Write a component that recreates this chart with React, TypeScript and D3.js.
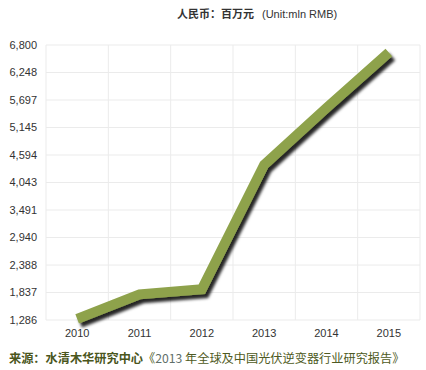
import React, { useEffect, useRef } from 'react'
import * as d3 from 'd3'

const years = ['2010', '2011', '2012', '2013', '2014', '2015']
const revenue = [1310, 1800, 1905, 4400, 5540, 6650]
const yTicks = [1286, 1837, 2388, 2940, 3491, 4043, 4594, 5145, 5697, 6248, 6800]

const width = 426
const height = 370

export default function App() {
  const svgRef = useRef<SVGSVGElement>(null)

  useEffect(() => {
    if (!svgRef.current) return
    const root = d3.select(svgRef.current)
    root.selectAll('*').remove()

    const margin = { top: 45, right: 6, bottom: 50, left: 46 }
    const innerWidth = width - margin.left - margin.right
    const innerHeight = height - margin.top - margin.bottom

    const x = d3.scaleBand<string>().domain(years).range([0, innerWidth])
    const y = d3.scaleLinear().domain([1286, 6800]).range([innerHeight, 0])

    // drop shadow for the thick line
    const defs = root.append('defs')
    const filter = defs.append('filter').attr('id', 'shadow')
      .attr('x', '-10%').attr('y', '-10%').attr('width', '130%').attr('height', '130%')
    filter.append('feDropShadow')
      .attr('dx', 3).attr('dy', 4).attr('stdDeviation', 1.4)
      .attr('flood-color', '#000').attr('flood-opacity', 0.85)

    const g = root.append('g').attr('transform', `translate(${margin.left},${margin.top})`)

    // grid
    g.selectAll('.hgrid').data(yTicks).enter().append('line')
      .attr('x1', 0).attr('x2', innerWidth)
      .attr('y1', d => y(d)).attr('y2', d => y(d))
      .attr('stroke', '#ebebeb').attr('stroke-width', 1)
    const vx = years.map(d => x(d)!).concat([innerWidth])
    g.selectAll('.vgrid').data(vx).enter().append('line')
      .attr('x1', d => d).attr('x2', d => d)
      .attr('y1', 0).attr('y2', innerHeight)
      .attr('stroke', '#ebebeb').attr('stroke-width', 1)

    const tickFont = "'Liberation Sans', Arial, sans-serif"

    // y labels
    g.selectAll('.ylab').data(yTicks).enter().append('text')
      .attr('x', -9).attr('y', d => y(d)).attr('dy', '0.35em')
      .attr('text-anchor', 'end')
      .attr('font-family', tickFont)
      .attr('font-size', 11).attr('fill', '#333')
      .text(d => d3.format(',')(d))

    // x labels
    g.selectAll('.xlab').data(years).enter().append('text')
      .attr('x', d => x(d)! + x.bandwidth() / 2).attr('y', innerHeight + 17)
      .attr('text-anchor', 'middle')
      .attr('font-family', tickFont)
      .attr('font-size', 11).attr('fill', '#333')
      .text(d => d)

    const line = d3.line<number>()
      .x((_, i) => x(years[i])! + x.bandwidth() / 2)
      .y(d => y(d))

    g.append('path')
      .datum(revenue)
      .attr('d', line)
      .attr('fill', 'none')
      .attr('stroke', '#8ea24c')
      .attr('stroke-width', 10)
      .attr('stroke-linejoin', 'miter')
      .attr('stroke-linecap', 'butt')
      .attr('filter', 'url(#shadow)')

    // unit title
    const title = root.append('text')
      .attr('y', 18)
      .attr('font-size', 11).attr('fill', '#333')
    title.append('tspan').attr('x', 177)
      .attr('font-family', "'Noto Sans CJK SC', sans-serif").attr('font-weight', 'bold')
      .text('人民币：百万元')
    title.append('tspan').attr('x', 262)
      .attr('font-family', tickFont)
      .text('(Unit:mln RMB)')

    // source note
    const src = root.append('text')
      .attr('x', 9).attr('y', 363)
      .attr('font-family', "'Noto Sans CJK SC', sans-serif")
      .attr('font-size', 12.2)
    src.append('tspan').attr('font-weight', 'bold').attr('fill', '#4a561c').text('来源：水清木华研究中心')
    src.append('tspan').attr('fill', '#4e5a22').text('《')
    src.append('tspan').attr('fill', '#5f6f6a').text('2013')
    src.append('tspan').attr('fill', '#4e5a22').text(' 年全球及中国光伏逆变器行业研究报告》')
  }, [])

  return <svg ref={svgRef} width={width} height={height} style={{ position: 'absolute', left: 0, top: 0, background: '#fff' }} />
}
